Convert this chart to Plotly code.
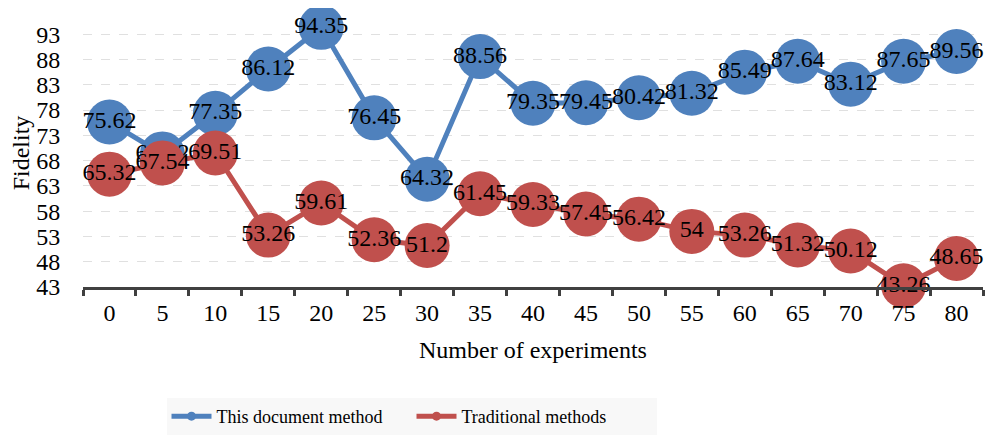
import plotly.graph_objects as go

categories = ["0", "5", "10", "15", "20", "25", "30", "35", "40", "45", "50", "55", "60", "65", "70", "75", "80"]
this_method = [75.62, 69.32, 77.35, 86.12, 94.35, 76.45, 64.32, 88.56, 79.35, 79.45, 80.42, 81.32, 85.49, 87.64, 83.12, 87.65, 89.56]
traditional = [65.32, 67.54, 69.51, 53.26, 59.61, 52.36, 51.2, 61.45, 59.33, 57.45, 56.42, 54, 53.26, 51.32, 50.12, 43.26, 48.65]
y_ticks = [43, 48, 53, 58, 63, 68, 73, 78, 83, 88, 93]

FONT = "Liberation Serif, Times New Roman, serif"
FS = 24

fig = go.Figure()
for name, vals, color in [("This document method", this_method, "#4F81BD"),
                          ("Traditional methods", traditional, "#C0504D")]:
    fig.add_trace(go.Scatter(
        x=categories, y=vals, name=name, showlegend=False,
        mode="lines+markers+text",
        line=dict(color=color, width=5),
        marker=dict(color=color, size=45),
        text=[f"{v:g}" for v in vals],
        textposition="middle center",
        textfont=dict(family=FONT, size=FS, color="black"),
        cliponaxis=False,
    ))
    # legend-only entry with small marker, as in the reference
    fig.add_trace(go.Scatter(
        x=[None], y=[None], name=name, mode="lines+markers",
        line=dict(color=color, width=5), marker=dict(color=color, size=9),
        showlegend=True,
    ))

fig.update_layout(
    width=993, height=436,
    margin=dict(l=75, r=18, t=11, b=157, autoexpand=False),
    paper_bgcolor="white", plot_bgcolor="white",
    font=dict(family=FONT, size=FS, color="black"),
    showlegend=True,
    legend=dict(orientation="h", x=0.365, xanchor="center", y=-0.414, yanchor="top",
                bgcolor="#f8f8f8", font=dict(family=FONT, size=18, color="black"),
                traceorder="normal", itemwidth=40, entrywidth=190),
    xaxis=dict(type="category", range=[-0.5, 16.5], showline=True, linecolor="#404040", linewidth=3,
               ticks="outside", tickson="boundaries", ticklen=6, tickwidth=3, tickcolor="#404040",
               ticklabelstandoff=2,
               showgrid=False, tickfont=dict(size=FS), automargin=False,
               title=dict(text="Number of experiments", font=dict(size=FS), standoff=17)),
    yaxis=dict(range=[43, 96], tickvals=y_ticks, showline=False, ticks="outside", ticklen=17,
               tickcolor="rgba(0,0,0,0)", automargin=False,
               showgrid=True, gridcolor="#e0e0e0", griddash="dash", gridwidth=1,
               zeroline=False, tickfont=dict(size=FS),
               title=dict(text="Fidelity", font=dict(size=FS), standoff=13)),
)
fig.write_html("out.html")
